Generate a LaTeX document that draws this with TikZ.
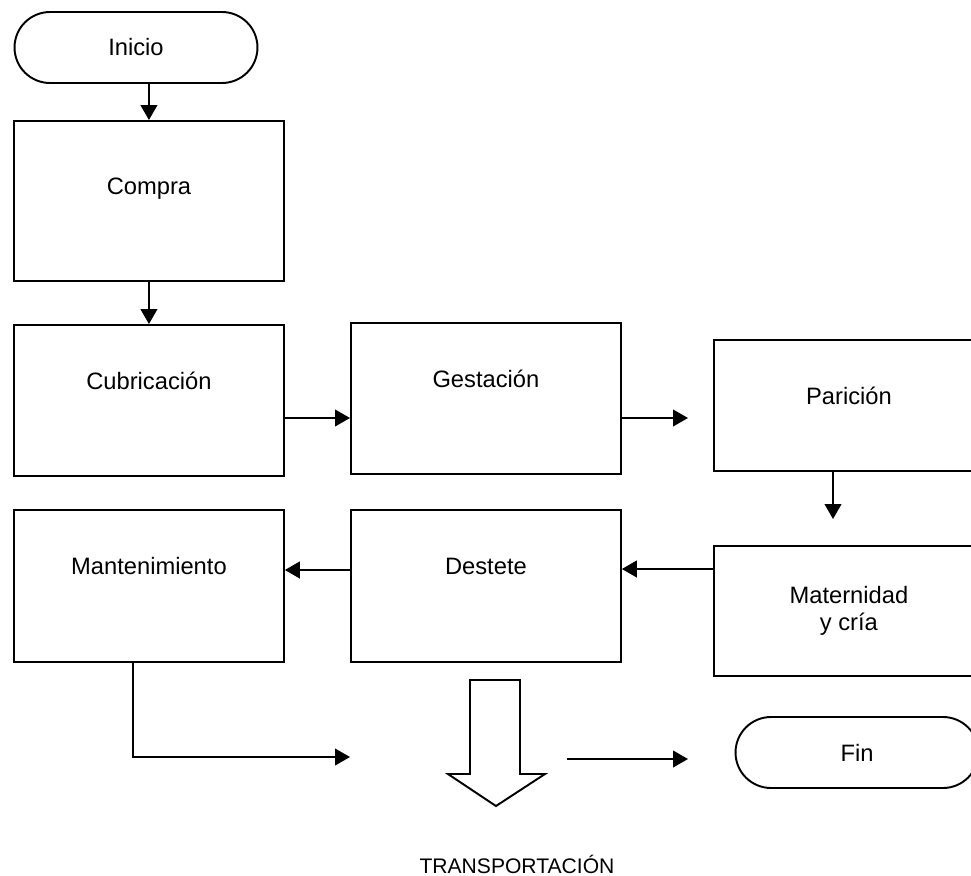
\documentclass[tikz,border=0pt]{standalone}
\usepackage{fontspec}
\setmainfont{Liberation Sans}
\usepackage{tikz}
\usetikzlibrary{arrows.meta}
\usetikzlibrary{shapes.misc}
\usetikzlibrary{positioning}
\tikzset{
    caja/.style = {rectangle, draw=black, line width=1.1pt, align=center, inner sep=0pt, minimum width=5.4cm, anchor=north west},
    term/.style = {rounded rectangle, draw=black, line width=1.1pt, align=center, inner sep=0pt, minimum width=4.86cm, minimum height=1.42cm},
}

\begin{document}
\begin{tikzpicture}[
	x=0.02cm,
	y=-0.02cm,
	font=\fontsize{13.5}{15.5}\selectfont
]
\tikzset{
    flecha/.style = {-{Triangle[length=8.5pt,width=9.5pt]}, line width=1pt},
    linea/.style = {-, line width=1pt}
}
\useasboundingbox (0,0) rectangle (971,876);
\node[term] at (136,47.5) (inicio) {Inicio};
\node[caja, text height=1.47cm, text depth=1.73cm] at (13,120) (compra) {Compra};
\node[caja, text height=1.29cm, text depth=1.73cm] at (13,324) (cubr) {Cubricación};
\node[caja, text height=1.29cm, text depth=1.73cm] at (350,322) (gest) {Gestación};
\node[caja, text height=1.29cm, text depth=1.33cm] at (713,339) (paric) {Parición};
\node[caja, text height=1.29cm, text depth=1.75cm] at (13,509) (mant) {Mantenimiento};
\node[caja, text height=1.29cm, text depth=1.75cm] at (350,509) (dest) {Destete};
\node[caja, minimum height=2.6cm] at (713,545) (mater) {Maternidad\\y cría};
\node[term] at (857,752.5) (fin) {Fin};
\node[font=\fontsize{12}{14}\selectfont] at (517,864) (transp) {TRANSPORTACIÓN};
%
\coordinate (pa) at (688,418);
\coordinate (pb) at (833,519);
\coordinate (pc) at (350,757);
\coordinate (pd) at (567,759);
\coordinate (pe) at (688,759);
%
\draw[flecha] (inicio.south -| compra.north) -- (compra.north);
\draw[flecha] (compra.south) -- (cubr.north);
\draw[flecha] (cubr.east |- 0,418) -- (gest.west |- 0,418);
\draw[flecha] (gest.east |- pa) -- (pa);
\draw[flecha] (paric.south -| pb) -- (pb);
%
\draw[flecha] (mater.west |- 0,569) -- (dest.east |- 0,569);
\draw[flecha] (dest.west |- 0,570) -- (mant.east |- 0,570);
\draw[flecha] (mant.south -| 133,0) |- (pc);
\draw[flecha] (pd) -- (pe);
%
\draw[line width=1.1pt, line join=miter] (470,680) -- (520,680) -- (520,774) -- (545,774)
    -- (496,806) -- (448,774) -- (470,774) -- cycle;
\end{tikzpicture}
\end{document}
